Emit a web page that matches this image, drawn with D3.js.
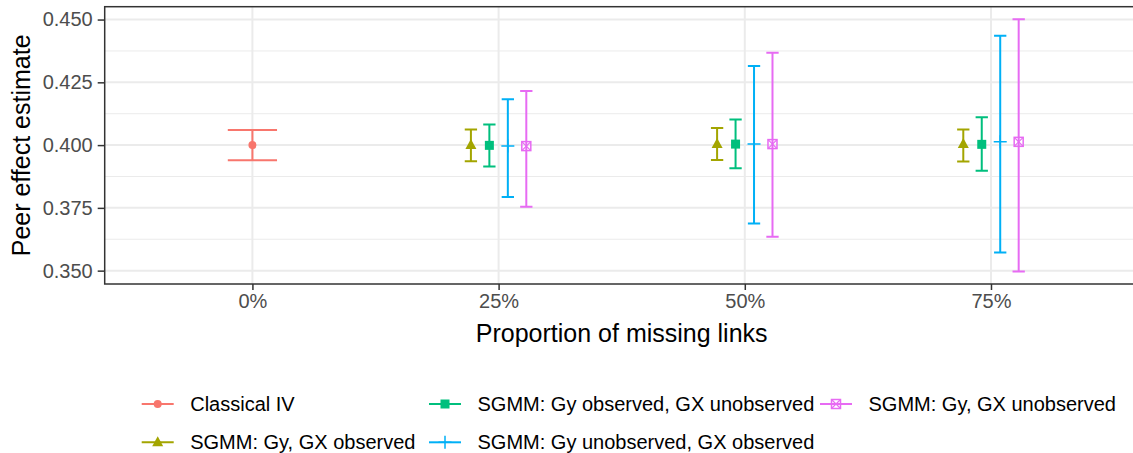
<!DOCTYPE html>
<html>
<head>
<meta charset="utf-8">
<script src="https://cdn.jsdelivr.net/npm/d3@7"></script>
<style>
  html, body { margin: 0; padding: 0; background: #fff; }
  svg { display: block; font-family: "Liberation Sans", Arial, Helvetica, sans-serif; }
</style>
</head>
<body>
<svg id="chart" width="1133" height="453"></svg>
<script>
// Proportion of missing links (x categories)
const categories = ["0%", "25%", "50%", "75%"];

// Estimation methods, in legend order
const methods = [
  "Classical IV",
  "SGMM: Gy, GX observed",
  "SGMM: Gy observed, GX unobserved",
  "SGMM: Gy unobserved, GX observed",
  "SGMM: Gy, GX unobserved"
];

// Point estimates and interval bounds per method (null = not estimated)
const classicalEst = [0.400, null, null, null];
const classicalLo  = [0.394, null, null, null];
const classicalHi  = [0.406, null, null, null];

const obsEst = [null, 0.4000, 0.4004, 0.4004];
const obsLo  = [null, 0.3936, 0.3941, 0.3935];
const obsHi  = [null, 0.4062, 0.4068, 0.4062];

const gxUnobsEst = [null, 0.3999, 0.4004, 0.4003];
const gxUnobsLo  = [null, 0.3915, 0.3908, 0.3898];
const gxUnobsHi  = [null, 0.4082, 0.4102, 0.4111];

const gyUnobsEst = [null, 0.3996, 0.4004, 0.4013];
const gyUnobsLo  = [null, 0.3793, 0.3688, 0.3572];
const gyUnobsHi  = [null, 0.4183, 0.4315, 0.4436];

const bothUnobsEst = [null, 0.3996, 0.4004, 0.4013];
const bothUnobsLo  = [null, 0.3754, 0.3635, 0.3497];
const bothUnobsHi  = [null, 0.4215, 0.4368, 0.4501];

const yTicks = [0.350, 0.375, 0.400, 0.425, 0.450];

const colors = ["#F8766D", "#A3A500", "#00BF7D", "#00B0F6", "#E76BF3"];
const shapes = ["circle", "triangle", "square", "plus", "squarecross"];

const seriesTable = [
  [classicalEst, classicalLo, classicalHi],
  [obsEst, obsLo, obsHi],
  [gxUnobsEst, gxUnobsLo, gxUnobsHi],
  [gyUnobsEst, gyUnobsLo, gyUnobsHi],
  [bothUnobsEst, bothUnobsLo, bothUnobsHi]
];

const rows = [];
seriesTable.forEach((s, mi) => {
  categories.forEach((c, ci) => {
    if (s[0][ci] != null) {
      rows.push({ method: methods[mi], mi, cat: c, est: s[0][ci], lo: s[1][ci], hi: s[2][ci] });
    }
  });
});

const svg = d3.select("#chart");
const panel = { left: 104.7, right: 1138.7, top: 6.7, bottom: 284 };

const x = d3.scalePoint().domain(categories).range([panel.left, panel.right]).padding(0.6);
const step = x.step();

const lo = d3.min(rows, d => d.lo), hi = d3.max(rows, d => d.hi);
const pad = (hi - lo) * 0.05;
const y = d3.scaleLinear().domain([lo - pad, hi + pad]).range([panel.bottom, panel.top]);

// gridlines
const g = svg.append("g");
const minorTicks = d3.range(0.3375, 0.4626, 0.025).filter(v => v > y.domain()[0] && v < y.domain()[1]);
g.selectAll(".minor").data(minorTicks).join("line")
  .attr("x1", panel.left).attr("x2", panel.right)
  .attr("y1", d => y(d)).attr("y2", d => y(d))
  .attr("stroke", "#EBEBEB").attr("stroke-width", 1);
g.selectAll(".majorY").data(yTicks).join("line")
  .attr("x1", panel.left).attr("x2", panel.right)
  .attr("y1", d => y(d)).attr("y2", d => y(d))
  .attr("stroke", "#EBEBEB").attr("stroke-width", 2);
g.selectAll(".majorX").data(categories).join("line")
  .attr("x1", d => x(d)).attr("x2", d => x(d))
  .attr("y1", panel.top).attr("y2", panel.bottom)
  .attr("stroke", "#EBEBEB").attr("stroke-width", 2);

// dodge positions within each category
const dodgeWidth = 0.3 * step;
const capTotal = 0.2 * step;
const byCat = d3.group(rows, d => d.cat);
byCat.forEach(list => {
  const n = list.length;
  list.forEach((d, i) => {
    d.x = x(d.cat) + (n === 1 ? 0 : (i - (n - 1) / 2) * dodgeWidth / n);
    d.cap = capTotal / n;
  });
});

function drawShape(sel, shape, color, cx, cy, scale) {
  const s = scale || 1;
  if (shape === "circle") {
    sel.append("circle").attr("cx", cx).attr("cy", cy).attr("r", 4 * s).attr("fill", color);
  } else if (shape === "triangle") {
    const h = 10 * s, w = 11 * s;
    sel.append("path").attr("d", `M${cx},${cy - h * 0.6}L${cx + w / 2},${cy + h * 0.4}L${cx - w / 2},${cy + h * 0.4}Z`).attr("fill", color);
  } else if (shape === "square") {
    const a = 9 * s;
    sel.append("rect").attr("x", cx - a / 2).attr("y", cy - a / 2).attr("width", a).attr("height", a).attr("fill", color);
  } else if (shape === "plus") {
    const a = 6.5 * s;
    sel.append("path").attr("d", `M${cx - a},${cy}H${cx + a}M${cx},${cy - a}V${cy + a}`)
      .attr("stroke", color).attr("stroke-width", 1.5).attr("fill", "none");
  } else if (shape === "squarecross") {
    const a = 4.5 * s;
    sel.append("rect").attr("x", cx - a).attr("y", cy - a).attr("width", 2 * a).attr("height", 2 * a)
      .attr("fill", "none").attr("stroke", color).attr("stroke-width", 1.5);
    sel.append("path").attr("d", `M${cx - a},${cy - a}L${cx + a},${cy + a}M${cx - a},${cy + a}L${cx + a},${cy - a}`)
      .attr("stroke", color).attr("stroke-width", 1.2).attr("fill", "none");
  }
}

// error bars and points
const marks = svg.append("g");
rows.forEach(d => {
  const c = colors[d.mi];
  const eg = marks.append("g");
  eg.append("path")
    .attr("d", `M${d.x - d.cap / 2},${y(d.hi)}H${d.x + d.cap / 2}M${d.x},${y(d.hi)}V${y(d.lo)}M${d.x - d.cap / 2},${y(d.lo)}H${d.x + d.cap / 2}`)
    .attr("stroke", c).attr("stroke-width", 2).attr("fill", "none");
  drawShape(eg, shapes[d.mi], c, d.x, y(d.est));
});

// panel border
svg.append("rect").attr("x", panel.left).attr("y", panel.top)
  .attr("width", panel.right - panel.left).attr("height", panel.bottom - panel.top)
  .attr("fill", "none").attr("stroke", "#333333").attr("stroke-width", 1.5);

// axes
const yAxis = svg.append("g").attr("transform", `translate(${panel.left},0)`)
  .call(d3.axisLeft(y).tickValues(yTicks).tickFormat(d3.format(".3f")).tickSize(7).tickPadding(5));
const xAxis = svg.append("g").attr("transform", `translate(0,${panel.bottom})`)
  .call(d3.axisBottom(x).tickSize(6).tickPadding(4));
[yAxis, xAxis].forEach(a => {
  a.select(".domain").remove();
  a.selectAll(".tick line").attr("stroke", "#333333").attr("stroke-width", 1.5);
  a.selectAll(".tick text").attr("fill", "#4D4D4D").attr("font-size", 20)
    .attr("font-family", "'Liberation Sans', Arial, sans-serif");
});

// axis titles
svg.append("text").attr("x", (panel.left + panel.right) / 2).attr("y", 342)
  .attr("text-anchor", "middle").attr("font-size", 25).attr("fill", "#000").text("Proportion of missing links");
svg.append("text").attr("transform", `translate(30,${(panel.top + panel.bottom) / 2}) rotate(-90)`)
  .attr("text-anchor", "middle").attr("font-size", 25).attr("fill", "#000").text("Peer effect estimate");

// legend: filled by column, two rows
const colStarts = [141.7, 429, 820];
const rowY = [404, 442.3];
const leg = svg.append("g");
methods.forEach((m, i) => {
  const col = Math.floor(i / 2), row = i % 2;
  const kx = colStarts[col], ky = rowY[row];
  const c = colors[i];
  const lg = leg.append("g");
  lg.append("line").attr("x1", kx).attr("x2", kx + 32).attr("y1", ky).attr("y2", ky)
    .attr("stroke", c).attr("stroke-width", 2);
  drawShape(lg, shapes[i], c, kx + 16, ky);
  lg.append("text").attr("x", kx + 48.5).attr("y", ky).attr("dy", "0.35em")
    .attr("font-size", 20).attr("fill", "#000").text(m);
});
</script>
</body>
</html>
